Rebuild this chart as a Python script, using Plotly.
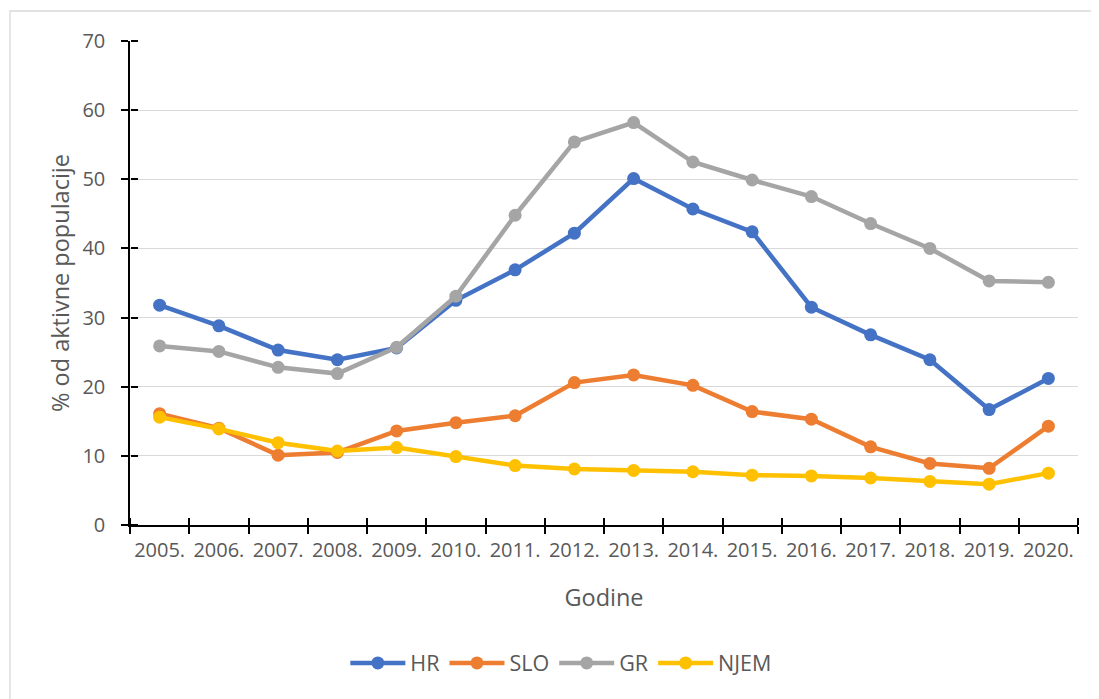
import plotly.graph_objects as go

years = ["2005.", "2006.", "2007.", "2008.", "2009.", "2010.", "2011.", "2012.",
         "2013.", "2014.", "2015.", "2016.", "2017.", "2018.", "2019.", "2020."]
hr = [31.8, 28.8, 25.3, 23.9, 25.6, 32.5, 36.9, 42.2, 50.1, 45.7, 42.4, 31.5, 27.5, 23.9, 16.7, 21.2]
slo = [16.1, 14.0, 10.1, 10.5, 13.6, 14.8, 15.8, 20.6, 21.7, 20.2, 16.4, 15.3, 11.3, 8.9, 8.2, 14.3]
gr = [25.9, 25.1, 22.8, 21.9, 25.7, 33.1, 44.8, 55.4, 58.2, 52.5, 49.9, 47.5, 43.6, 40.0, 35.3, 35.1]
njem = [15.6, 13.9, 11.9, 10.7, 11.2, 9.9, 8.6, 8.1, 7.9, 7.7, 7.2, 7.1, 6.8, 6.3, 5.9, 7.5]

series = [("HR", hr, "#4472C4"), ("SLO", slo, "#ED7D31"),
          ("GR", gr, "#A5A5A5"), ("NJEM", njem, "#FFC000")]

FONT = "Open Sans"
GREY = "#595959"
FS = 20

fig = go.Figure()
for name, vals, col in series:
    fig.add_trace(go.Scatter(
        x=years, y=vals, name=name, mode="lines+markers",
        line=dict(color=col, width=4.5),
        marker=dict(color=col, size=13),
    ))

# transparent copy on overlaid axes so that the inner halves of the crossing ticks are drawn
fig.add_trace(go.Scatter(
    x=years, y=hr, xaxis="x2", yaxis="y2", mode="markers",
    marker=dict(size=1, opacity=0), showlegend=False, hoverinfo="skip",
))

fig.update_layout(
    width=1091, height=691,
    paper_bgcolor="white", plot_bgcolor="white",
    margin=dict(l=122, r=21, t=33, b=174),
    font=dict(family=FONT, size=FS, color=GREY),
    showlegend=True,
    legend=dict(orientation="h", x=0.455, xanchor="center", y=-0.285, yanchor="middle",
                font=dict(size=21.5, color=GREY), itemwidth=55, traceorder="normal"),
    xaxis=dict(
        type="category", categoryorder="array", categoryarray=years,
        range=[-0.5, len(years) - 0.5], automargin=False,
        showline=True, linecolor="black", linewidth=1.5,
        ticks="outside", tickson="boundaries", ticklen=7, tickwidth=1.5, tickcolor="black",
        ticklabelstandoff=6, tickangle=0,
        showgrid=False, zeroline=False,
        tickfont=dict(size=FS, color=GREY),
        title=dict(text="Godine", font=dict(size=23.5, color=GREY), standoff=28),
    ),
    xaxis2=dict(
        type="category", categoryorder="array", categoryarray=years,
        overlaying="x", anchor="free", position=0, side="top",
        range=[-0.5, len(years) - 0.5],
        tickson="boundaries", showticklabels=False,
        ticks="outside", ticklen=7, tickwidth=1.5, tickcolor="black",
        showgrid=False, zeroline=False, showline=False,
    ),
    yaxis=dict(
        range=[0, 70], dtick=10, tick0=0, automargin=False,
        showline=True, linecolor="black", linewidth=1.5,
        ticks="outside", ticklen=7, tickwidth=1.5, tickcolor="black",
        ticklabelstandoff=12,
        showgrid=True, gridcolor="#D9D9D9", gridwidth=1.3,
        zeroline=False,
        tickfont=dict(size=FS, color=GREY),
        title=dict(text="% od aktivne populacije", font=dict(size=23.5, color=GREY), standoff=6),
    ),
    yaxis2=dict(
        overlaying="y", anchor="free", position=0, side="right",
        range=[0, 70], dtick=10, tick0=0,
        showticklabels=False, ticks="outside", ticklen=7, tickwidth=1.5, tickcolor="black",
        showgrid=False, zeroline=False, showline=False,
    ),
    shapes=[dict(type="rect", xref="paper", yref="paper",
                 x0=-0.1266, x1=1.03, y0=-0.38, y1=1.062,
                 line=dict(color="#D9D9D9", width=1.3), fillcolor="rgba(0,0,0,0)",
                 layer="below")],
)

fig.write_html("out.html")
